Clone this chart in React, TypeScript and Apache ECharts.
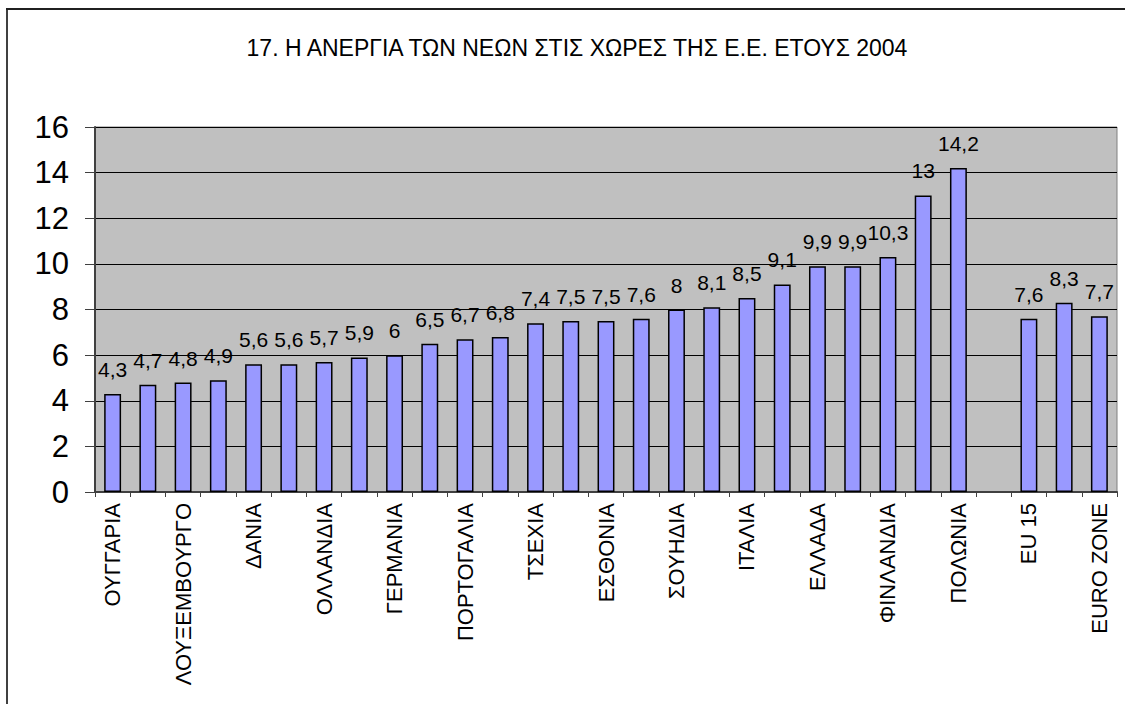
import React, { useEffect, useRef } from "react";
import * as echarts from "echarts";

const TITLE = "17. Η ΑΝΕΡΓΙΑ ΤΩΝ ΝΕΩΝ ΣΤΙΣ ΧΩΡΕΣ ΤΗΣ Ε.Ε. ΕΤΟΥΣ 2004";

const categories = [
  "ΟΥΓΓΑΡΙΑ", "ΙΡΛΑΝΔΙΑ", "ΛΟΥΞΕΜΒΟΥΡΓΟ", "ΑΥΣΤΡΙΑ", "ΔΑΝΙΑ",
  "ΗΝΩΜΕΝΟ ΒΑΣΙΛΕΙΟ", "ΟΛΛΑΝΔΙΑ", "ΚΥΠΡΟΣ", "ΓΕΡΜΑΝΙΑ", "ΣΛΟΒΕΝΙΑ",
  "ΠΟΡΤΟΓΑΛΙΑ", "ΜΑΛΤΑ", "ΤΣΕΧΙΑ", "ΒΕΛΓΙΟ", "ΕΣΘΟΝΙΑ",
  "ΛΕΤΟΝΙΑ", "ΣΟΥΗΔΙΑ", "ΛΙΘΟΥΑΝΙΑ", "ΙΤΑΛΙΑ", "ΓΑΛΛΙΑ",
  "ΕΛΛΑΔΑ", "ΙΣΠΑΝΙΑ", "ΦΙΝΛΑΝΔΙΑ", "ΣΛΟΒΑΚΙΑ", "ΠΟΛΩΝΙΑ",
  "", "EU 15", "EU 25", "EURO ZONE",
];

const values: (number | null)[] = [
  4.3, 4.7, 4.8, 4.9, 5.6,
  5.6, 5.7, 5.9, 6, 6.5,
  6.7, 6.8, 7.4, 7.5, 7.5,
  7.6, 8, 8.1, 8.5, 9.1,
  9.9, 9.9, 10.3, 13, 14.2,
  null, 7.6, 8.3, 7.7,
];

const yTicks = { min: 0, max: 16, interval: 2 };

const FONT = "'Liberation Sans', Arial, sans-serif";

export default function App() {
  const ref = useRef<HTMLDivElement>(null);

  useEffect(() => {
    document.body.style.margin = "0";
    if (!ref.current) return;
    const chart = echarts.init(ref.current, undefined, { renderer: "svg" });
    chart.setOption({
      animation: false,
      backgroundColor: "#ffffff",
      textStyle: { fontFamily: FONT },
      title: {
        text: TITLE,
        left: 572,
        top: 31,
        textAlign: "center",
        textStyle: {
          fontFamily: FONT,
          fontSize: 23,
          fontWeight: "normal",
          color: "#000",
        },
      },
      graphic: [
        {
          type: "line",
          shape: { x1: 7, y1: 9, x2: 7, y2: 720 },
          style: { stroke: "#404040", lineWidth: 2 },
        },
        {
          type: "line",
          shape: { x1: 6, y1: 9, x2: 1140, y2: 9 },
          style: { stroke: "#202020", lineWidth: 2 },
        },
      ],
      grid: {
        left: 95,
        right: 8,
        top: 127,
        bottom: 212,
        show: true,
        backgroundColor: "#C0C0C0",
        borderColor: "#808080",
        borderWidth: 1,
      },
      xAxis: {
        type: "category",
        data: categories,
        boundaryGap: true,
        axisLine: { lineStyle: { color: "#404040", width: 2 } },
        axisTick: {
          show: true,
          interval: 0,
          length: 5,
          lineStyle: { color: "#404040", width: 1 },
        },
        axisLabel: {
          interval: 1,
          rotate: 90,
          margin: 11,
          fontSize: 22,
          color: "#000",
          fontFamily: FONT,
        },
      },
      yAxis: {
        type: "value",
        min: yTicks.min,
        max: yTicks.max,
        interval: yTicks.interval,
        axisLine: { show: true, lineStyle: { color: "#404040", width: 2 } },
        axisTick: {
          show: true,
          length: 10,
          lineStyle: { color: "#404040", width: 1 },
        },
        axisLabel: {
          fontSize: 31,
          margin: 26,
          color: "#000",
          fontFamily: FONT,
        },
        splitLine: { show: true, lineStyle: { color: "#000", width: 1 } },
      },
      series: [
        {
          type: "bar",
          data: values,
          barWidth: "48%",
          itemStyle: {
            color: "#9999FF",
            borderColor: "#000",
            borderWidth: 1.5,
          },
          label: {
            show: true,
            position: "top",
            distance: 14,
            fontSize: 21,
            color: "#000",
            fontFamily: FONT,
            formatter: (p: any) =>
              p.value == null ? "" : String(p.value).replace(".", ","),
          },
        },
      ],
    });
    return () => chart.dispose();
  }, []);

  return <div ref={ref} style={{ width: 1125, height: 704 }} />;
}
